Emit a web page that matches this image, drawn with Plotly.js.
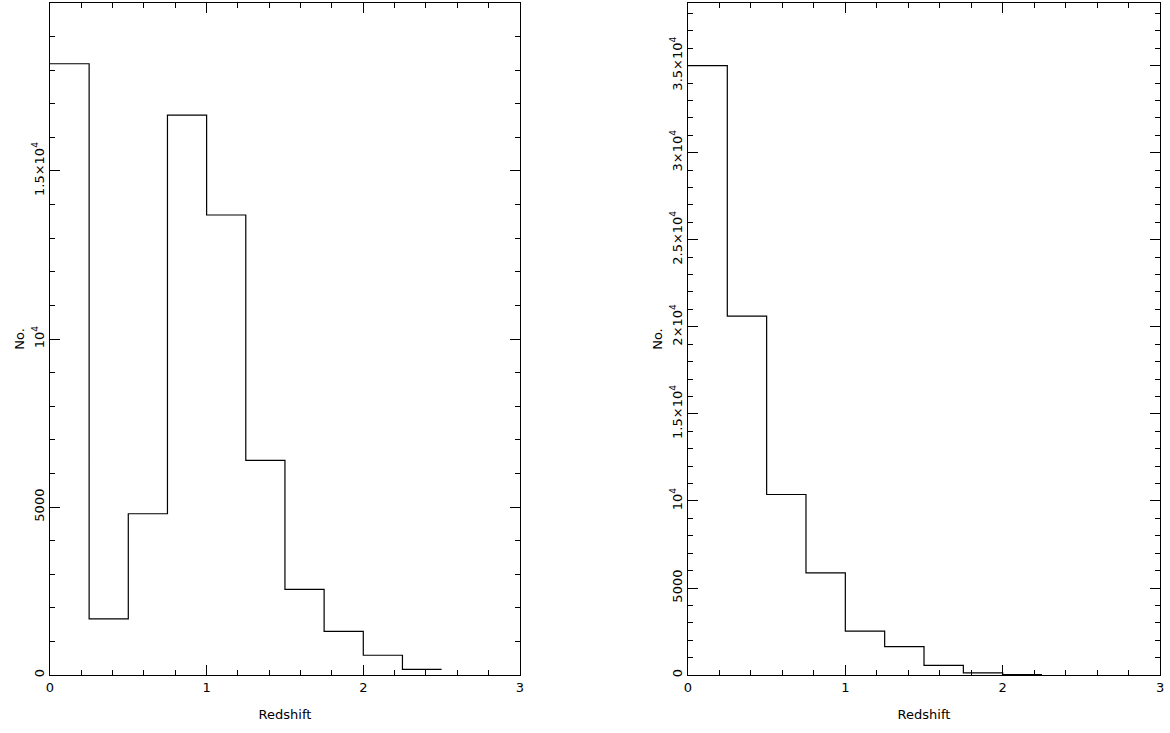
<!DOCTYPE html>
<html>
<head>
<meta charset="utf-8">
<script src="https://cdn.plot.ly/plotly-3.0.1.min.js"></script>
<style>body{margin:0;background:#fff}#chart{width:1170px;height:733px}</style>
</head>
<body>
<div id="chart"></div>
<script>
// bin edges (redshift) and counts
var edgesLeft = [0, 0.25, 0.5, 0.75, 1, 1.25, 1.5, 1.75, 2, 2.25, 2.5];
var countsLeft = [18190, 1670, 4800, 16660, 13690, 6390, 2550, 1300, 590, 170];

var edgesRight = [0, 0.25, 0.5, 0.75, 1, 1.25, 1.5, 1.75, 2, 2.25];
var countsRight = [35000, 20610, 10370, 5870, 2520, 1630, 560, 130, 30];

var yTicksLeft = [0, 5000, 10000, 15000];
var yTextLeft = ['0', '5000', '10<sup>4</sup>', '1.5×10<sup>4</sup>'];
var yTicksRight = [0, 5000, 10000, 15000, 20000, 25000, 30000, 35000];
var yTextRight = ['0', '5000', '10<sup>4</sup>', '1.5×10<sup>4</sup>', '2×10<sup>4</sup>',
                  '2.5×10<sup>4</sup>', '3×10<sup>4</sup>', '3.5×10<sup>4</sup>'];

function stepTrace(edges, counts, xa, ya){
  return { x: edges, y: counts.concat([counts[counts.length-1]]), xaxis: xa, yaxis: ya,
    mode: 'lines', line: { shape: 'hv', color: '#000', width: 1.2 }, showlegend: false };
}

var font = { family: 'DejaVu Sans, sans-serif', size: 13, color: '#000' };

function xAxis(domain, anchor){
  return { domain: domain, anchor: anchor, range: [0, 3], tickvals: [0, 1, 2, 3],
    ticks: 'inside', ticklen: 10, tickwidth: 1, tickcolor: '#000', mirror: 'ticks',
    showline: true, linecolor: '#000', linewidth: 1, showgrid: false, zeroline: false,
    minor: { dtick: 0.2, tick0: 0, ticks: 'inside', ticklen: 5, tickcolor: '#000' },
    title: { text: 'Redshift', font: font, standoff: 16 }, tickfont: font };
}
function yAxis(anchor, top, vals, text){
  return { anchor: anchor, domain: [0.079, 0.996], range: [0, top], tickvals: vals, ticktext: text,
    ticks: 'inside', ticklen: 10, tickwidth: 1, tickcolor: '#000', mirror: 'ticks',
    showline: true, linecolor: '#000', linewidth: 1, showgrid: false, zeroline: false,
    minor: { dtick: 1000, tick0: 0, ticks: 'inside', ticklen: 5, tickcolor: '#000' },
    tickangle: -90, tickfont: font, title: { text: 'No.', font: font, standoff: 2 } };
}

var data = [stepTrace(edgesLeft, countsLeft, 'x', 'y'), stepTrace(edgesRight, countsRight, 'x2', 'y2')];
var layout = {
  width: 1170, height: 733, paper_bgcolor: '#fff', plot_bgcolor: '#fff',
  margin: { l: 0, r: 0, t: 0, b: 0 }, font: font,
  xaxis: xAxis([0.0427, 0.4444], 'y'),
  yaxis: yAxis('x', 20000, yTicksLeft, yTextLeft),
  xaxis2: xAxis([0.588, 0.9915], 'y2'),
  yaxis2: yAxis('x2', 38600, yTicksRight, yTextRight)
};
Plotly.newPlot('chart', data, layout, { staticPlot: true });
</script>
</body>
</html>
